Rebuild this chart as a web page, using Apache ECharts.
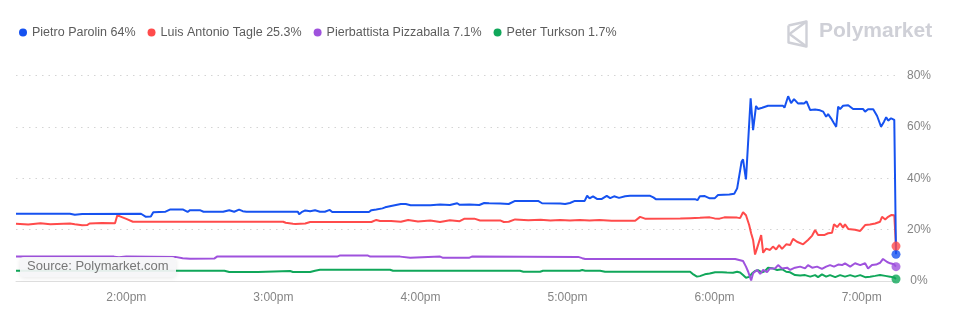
<!DOCTYPE html>
<html>
<head>
<meta charset="utf-8">
<script src="https://cdn.jsdelivr.net/npm/echarts@6/dist/echarts.min.js"></script>
<style>
  html, body { margin: 0; padding: 0; background: #ffffff; }
  #chart { width: 953px; height: 322px; }
</style>
</head>
<body>
<div id="chart"></div>
<script>
// Candidates, their current odds and line colours
const candidates = ['Pietro Parolin', 'Luis Antonio Tagle', 'Pierbattista Pizzaballa', 'Peter Turkson'];
const currentOdds = ['64%', '25.3%', '7.1%', '1.7%'];
const lineColors = ['#1652f0', '#ff4b4b', '#9f52dd', '#10a75a'];

// Time is minutes after midnight (13:15 to 19:14)
const timeStart = 795;
const timeEnd = 1154;
const hourTicks = [840, 900, 960, 1020, 1080, 1140];
const hourLabels = ['2:00pm', '3:00pm', '4:00pm', '5:00pm', '6:00pm', '7:00pm'];
const pctTicks = [0, 20, 40, 60, 80];

// [minute, probability %]
const parolin = [
  [795, 26.2], [817, 26.2], [819, 25.8], [822, 26.1], [846, 26.2], [848, 25.0], [850, 25.1], [851, 26.8],
  [856, 27.0], [858, 27.9], [863, 27.9], [865, 26.9], [866, 27.6], [870, 27.6], [871.5, 27.0], [879.5, 27.0],
  [882, 27.6], [884, 27.0], [886, 27.8], [887.5, 27.2], [889, 27.0], [910, 27.0], [910.5, 26.0], [911.5, 26.8],
  [913, 27.5], [915, 27.2], [917, 27.6], [919, 27.0], [921, 27.0], [923, 27.7], [924, 26.9], [939, 26.9],
  [940, 27.6], [942, 27.9], [944.5, 28.3], [945.6, 28.7], [948, 29.2], [950, 29.6], [952, 30.0], [954, 30.0],
  [956, 29.5], [964, 29.5], [968, 29.8], [972, 29.6], [975, 30.3], [976, 29.7], [980, 29.8], [984, 29.6],
  [986, 30.4], [988, 30.3], [992.5, 30.2], [996, 30.0], [998.6, 31.2], [1008, 31.2], [1009.6, 30.3], [1017, 30.2],
  [1019, 30.0], [1021, 30.4], [1023, 31.2], [1027, 31.2], [1028, 33.2], [1029, 32.2], [1030.4, 33.0], [1032, 32.0],
  [1034, 32.0], [1036, 33.2], [1037.4, 32.3], [1039, 33.0], [1041, 32.4], [1043.5, 33.0], [1045.5, 33.2], [1053.7, 33.2],
  [1055, 32.6], [1056, 31.9], [1072, 31.9], [1073, 31.5], [1074, 33.0], [1076, 33.1], [1078, 32.2], [1080, 32.2],
  [1081.4, 33.5], [1086, 33.7], [1088, 34.0], [1089.2, 36.1], [1090.4, 43.0], [1091, 46.5], [1091.6, 47.4], [1092.4, 42.0],
  [1092.8, 39.6], [1094.7, 71.2], [1095.7, 58.8], [1096.9, 68.2], [1097.7, 67.0], [1099.4, 67.5], [1101.8, 68.3], [1107.9, 68.3],
  [1108.5, 67.5], [1109.2, 67.0], [1110, 72.0], [1111.2, 69.3], [1112.4, 70.9], [1114, 69.2], [1115.5, 69.3], [1116.5, 69.2],
  [1117.5, 70.0], [1118.1, 70.3], [1119, 66.6], [1121, 66.8], [1121.8, 66.4], [1123, 66.5], [1124.3, 66.0], [1125.5, 64.0],
  [1126.3, 65.0], [1127.5, 63.4], [1128.7, 61.5], [1129.6, 60.1], [1130.4, 68.0], [1131.2, 67.0], [1132.4, 68.3], [1134.5, 68.5],
  [1135.3, 68.0], [1136.5, 67.0], [1137.7, 67.0], [1140.6, 67.0], [1141.4, 66.0], [1142.6, 66.9], [1144.7, 66.9], [1146.3, 64.3],
  [1147.9, 60.1], [1149.1, 62.1], [1150, 63.8], [1150.8, 62.5], [1152, 63.4], [1152.8, 63.0], [1153.3, 62.8], [1154, 10.4]
];

const tagle = [
  [795, 22.3], [800, 22.0], [805, 22.5], [809, 22.1], [817, 22.4], [819, 22.1], [822, 21.7], [824, 21.8],
  [825, 22.4], [830, 22.6], [835.4, 22.5], [836.3, 25.5], [837.4, 25.2], [838, 24.6], [840, 24.2], [842.7, 23.1],
  [904, 23.1], [905, 22.7], [908, 22.3], [909, 22.2], [913, 22.4], [915, 23.0], [940, 23.0], [942, 23.8],
  [943.5, 23.4], [948, 23.4], [952, 23.1], [955, 23.8], [959, 23.2], [964, 23.6], [968, 23.0], [972, 23.7],
  [976, 23.3], [978, 24.3], [982, 24.3], [984.3, 23.6], [992.5, 23.6], [994, 23.0], [996, 23.1], [998.6, 24.0],
  [1004, 23.7], [1009, 23.9], [1013, 23.6], [1017, 23.8], [1021, 23.6], [1025, 23.8], [1029, 23.6], [1033, 23.8],
  [1038, 23.5], [1047.6, 23.5], [1049.6, 25.0], [1051.6, 24.3], [1066, 24.4], [1070, 24.5], [1074, 24.6], [1078, 24.8],
  [1080, 24.4], [1082, 24.3], [1084, 24.8], [1089.2, 24.7], [1090.4, 24.5], [1091.6, 26.8], [1092.8, 25.6], [1094.1, 21.8],
  [1094.9, 18.6], [1095.7, 16.0], [1096.5, 10.3], [1097.3, 12.7], [1098.1, 12.0], [1099, 17.9], [1099.8, 11.0], [1101, 12.6],
  [1102.6, 12.1], [1103.8, 13.4], [1105.1, 12.3], [1106.3, 14.0], [1107.5, 12.5], [1109.2, 14.3], [1110.8, 14.0], [1112, 16.4],
  [1113.6, 15.3], [1116.1, 14.3], [1118.1, 16.0], [1119.8, 17.7], [1121, 19.9], [1122.2, 17.9], [1123, 18.3], [1124.7, 17.9],
  [1126.3, 18.6], [1127.9, 18.8], [1128.7, 22.1], [1130, 21.0], [1131.2, 22.5], [1132.4, 20.8], [1133.2, 22.1], [1134.5, 20.3],
  [1137.3, 20.0], [1139.4, 19.5], [1141.4, 21.8], [1143.4, 22.0], [1145.5, 22.4], [1147.5, 23.1], [1148.3, 25.0], [1149.6, 24.0],
  [1150.8, 25.0], [1152, 25.7], [1152.8, 26.4], [1153.3, 25.6], [1154, 13.6]
];

const pizzaballa = [
  [795, 9.5], [835, 9.5], [837, 9.3], [840, 9.5], [860, 9.4], [863, 8.9], [866, 8.7], [876, 8.8],
  [877, 9.5], [926, 9.5], [927, 9.9], [938.6, 9.9], [939.5, 9.5], [951.7, 9.5], [952.5, 9.1], [955.8, 9.1],
  [956.5, 9.5], [968, 9.5], [969, 9.1], [980, 9.1], [981, 9.5], [1024.3, 9.4], [1025, 9.0], [1026, 8.9],
  [1027.2, 8.6], [1088.4, 8.6], [1089.6, 8.3], [1091.6, 7.8], [1092.8, 5.6], [1093.7, 3.6], [1094.9, 0.2], [1095.7, 3.0],
  [1096.5, 2.4], [1097.3, 4.3], [1098.6, 2.8], [1099.8, 4.3], [1101.4, 3.5], [1102.6, 4.9], [1104.7, 4.9], [1105.9, 6.2],
  [1107.5, 4.9], [1109.6, 5.2], [1110.8, 4.3], [1112.8, 5.2], [1114.9, 5.6], [1116.9, 4.9], [1118.1, 6.2], [1119.8, 5.2],
  [1121.8, 5.6], [1123.8, 4.7], [1125.5, 5.6], [1127.1, 6.2], [1128.7, 5.6], [1130.4, 6.4], [1132, 6.2], [1133.2, 6.9],
  [1135.3, 5.6], [1137.3, 6.9], [1139.4, 6.2], [1141.4, 6.9], [1142.6, 4.9], [1144.2, 6.2], [1145.9, 6.4], [1147.5, 7.1],
  [1148.7, 8.6], [1150.4, 7.4], [1151.6, 6.9], [1153.2, 6.5], [1154, 5.6]
];

const turkson = [
  [795, 4.0], [880, 4.0], [882, 3.5], [893.7, 3.5], [894.5, 3.9], [906.8, 3.9], [908, 3.5], [915, 3.5],
  [917, 4.0], [919, 4.4], [947.6, 4.4], [948.8, 4.0], [1000.6, 4.0], [1002, 3.6], [1008.8, 3.6], [1010, 4.0],
  [1025, 4.0], [1026, 4.3], [1027.2, 4.0], [1033.3, 4.0], [1034, 4.3], [1035.3, 3.6], [1070, 3.6], [1071, 2.8],
  [1072.8, 1.7], [1074, 1.9], [1076, 2.6], [1078, 2.9], [1080.2, 3.4], [1083, 3.4], [1085, 3.3], [1087.5, 3.2],
  [1089.2, 3.6], [1090.4, 3.3], [1091.6, 2.3], [1092.8, 1.3], [1094.1, 1.6], [1095.3, 3.0], [1096.5, 3.9], [1097.7, 4.2],
  [1099.4, 3.4], [1100.6, 3.9], [1101.8, 5.2], [1103.4, 5.0], [1105.5, 4.3], [1107.5, 4.6], [1109.2, 3.6], [1110.8, 3.4],
  [1112.8, 2.3], [1114.9, 2.1], [1116.9, 2.3], [1119, 1.7], [1121, 2.3], [1122.2, 1.5], [1123.8, 2.6], [1125.5, 1.7],
  [1127.1, 2.3], [1129.2, 1.5], [1131.2, 2.3], [1133.2, 1.7], [1135.3, 2.3], [1137.3, 1.7], [1139.4, 2.3], [1141.4, 1.5],
  [1143.4, 1.7], [1145.5, 2.0], [1147.5, 2.3], [1149.6, 2.0], [1151.6, 1.7], [1153.2, 1.4], [1154, 0.8]
];

const seriesData = [parolin, tagle, pizzaballa, turkson];
const FONT = '"Liberation Sans", Arial, Helvetica, sans-serif';

const chart = echarts.init(document.getElementById('chart'), null, { renderer: 'canvas' });

const lineSeries = candidates.map((name, i) => ({
  name: name,
  type: 'line',
  data: seriesData[i],
  symbol: 'none',
  lineStyle: { width: 2, color: lineColors[i] },
  itemStyle: { color: lineColors[i] },
  z: 10 - i,
  animation: false
}));

// closing dot at the end of each line
const endDots = candidates.map((name, i) => ({
  name: name,
  type: 'scatter',
  data: [seriesData[i][seriesData[i].length - 1]],
  symbol: 'circle',
  symbolSize: 9,
  itemStyle: { color: lineColors[i] },
  z: 20,
  animation: false
}));

chart.setOption({
  backgroundColor: '#ffffff',
  animation: false,
  legend: {
    left: 14,
    top: 21,
    icon: 'circle',
    itemWidth: 8,
    itemHeight: 8,
    itemGap: 12,
    data: candidates,
    formatter: (name) => name + ' ' + currentOdds[candidates.indexOf(name)],
    textStyle: { color: '#5c5c5c', fontSize: 12.5, fontFamily: FONT },
    selectedMode: false
  },
  grid: { left: 16, right: 57, top: 75.7, bottom: 41, containLabel: false },
  xAxis: {
    type: 'value',
    min: timeStart,
    max: timeEnd,
    axisLine: { show: true, lineStyle: { color: '#dedede', width: 1 } },
    axisTick: { show: false },
    splitLine: { show: false },
    axisLabel: {
      customValues: hourTicks,
      margin: 11,
      color: '#858585',
      fontSize: 12,
      fontFamily: FONT,
      formatter: (v) => hourLabels[hourTicks.indexOf(v)]
    }
  },
  yAxis: {
    type: 'value',
    position: 'right',
    min: pctTicks[0],
    max: pctTicks[pctTicks.length - 1],
    interval: 20,
    axisLine: { show: false },
    axisTick: { show: false },
    splitLine: { show: true, lineStyle: { color: '#d4d4d4', type: [1.5, 5], width: 1 } },
    axisLabel: {
      margin: 23,
      align: 'center',
      color: '#858585',
      fontSize: 12,
      fontFamily: FONT,
      formatter: '{value}%'
    }
  },
  series: lineSeries.concat(endDots),
  graphic: [
    // brand mark, top right
    {
      type: 'group',
      left: 786,
      top: 19,
      z: 50,
      children: [
        {
          type: 'polyline',
          shape: { points: [[2, 5], [20, 1], [20, 26], [2, 22], [2, 5]] },
          style: { stroke: '#cfd0d7', lineWidth: 2.4, fill: null, lineJoin: 'round' }
        },
        {
          type: 'polyline',
          shape: { points: [[20, 1], [3, 13.5], [20, 26]] },
          style: { stroke: '#cfd0d7', lineWidth: 2.4, fill: null, lineJoin: 'round' }
        }
      ]
    },
    {
      type: 'text',
      left: 819,
      top: 21,
      z: 50,
      style: {
        text: 'Polymarket',
        fill: '#cfd0d7',
        font: '600 21px ' + FONT
      }
    },
    // source badge, bottom left
    {
      type: 'rect',
      left: 20,
      top: 257,
      z: 50,
      shape: { width: 156, height: 20, r: 4 },
      style: {
        fill: 'rgba(246,246,248,0.92)',
        shadowBlur: 5,
        shadowColor: 'rgba(0,0,0,0.10)',
        shadowOffsetY: 1
      }
    },
    {
      type: 'text',
      left: 27,
      top: 260,
      z: 51,
      style: {
        text: 'Source: Polymarket.com',
        fill: '#777777',
        font: '13px ' + FONT
      }
    }
  ]
});
</script>
</body>
</html>
